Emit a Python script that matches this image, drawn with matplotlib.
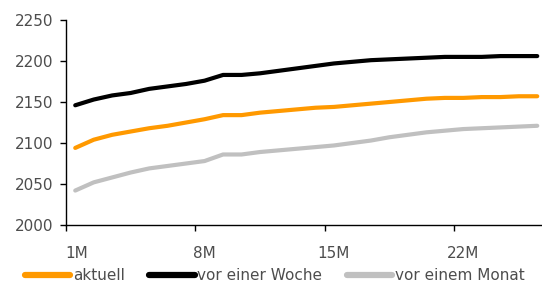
import matplotlib.pyplot as plt
import numpy as np

# monthly maturities 1M..26M (chart is cut at the right edge)
months = list(range(1, 27))
aktuell = [2094, 2104, 2110, 2114, 2118, 2121, 2125, 2129, 2134, 2134, 2137, 2139, 2141,
           2143, 2144, 2146, 2148, 2150, 2152, 2154, 2155, 2155, 2156, 2156, 2157, 2157]
vor_woche = [2146, 2153, 2158, 2161, 2166, 2169, 2172, 2176, 2183, 2183, 2185, 2188, 2191,
             2194, 2197, 2199, 2201, 2202, 2203, 2204, 2205, 2205, 2205, 2206, 2206, 2206]
vor_monat = [2042, 2052, 2058, 2064, 2069, 2072, 2075, 2078, 2086, 2086, 2089, 2091, 2093,
             2095, 2097, 2100, 2103, 2107, 2110, 2113, 2115, 2117, 2118, 2119, 2120, 2121]
tick_labels = ['1M', '8M', '15M', '22M']
yticks = [2000, 2050, 2100, 2150, 2200, 2250]

plt.rcParams['font.family'] = ['DejaVu Sans']
txt_color = '#4d4d4d'

fig = plt.figure(figsize=(5.42, 2.89), dpi=100)
ax = fig.add_axes([66 / 542, 1 - 225 / 289, (542 - 66) / 542, (225 - 20) / 289])

x = np.array(months) - 0.5
ax.plot(x, aktuell, color='#FF9900', lw=3, label='aktuell', solid_capstyle='round')
ax.plot(x, vor_woche, color='black', lw=3, label='vor einer Woche', solid_capstyle='round')
ax.plot(x, vor_monat, color='#C0C0C0', lw=3, label='vor einem Monat', solid_capstyle='round')

ax.set_xlim(0, 476 / 18.48)
ax.set_ylim(2000, 2250)
ax.set_yticks(yticks)
ax.set_xticks([0, 7, 14, 21])
ax.set_xticklabels([])
ax.set_xticks([0.6, 7.5, 14.5, 21.5], minor=True)
ax.set_xticklabels(tick_labels, minor=True)
ax.tick_params(axis='x', which='major', length=4, width=1, direction='out')
ax.tick_params(axis='x', which='minor', length=0, pad=15, labelsize=11, labelcolor=txt_color)
ax.tick_params(axis='y', length=4, width=1, direction='out', labelsize=11,
               labelcolor=txt_color, pad=5)

for s in ['top', 'right']:
    ax.spines[s].set_visible(False)
ax.spines['left'].set_linewidth(1)
ax.spines['bottom'].set_linewidth(1)

leg = fig.legend(loc='center left', bbox_to_anchor=(20 / 542, 13 / 289), ncol=3, frameon=False,
                 fontsize=11, handlelength=3.0, handletextpad=0.15, columnspacing=1.6,
                 borderpad=0.3, borderaxespad=0)
for t in leg.get_texts():
    t.set_color(txt_color)
for l in leg.get_lines():
    l.set_linewidth(4.5)

fig.savefig('out.png', dpi=100)
